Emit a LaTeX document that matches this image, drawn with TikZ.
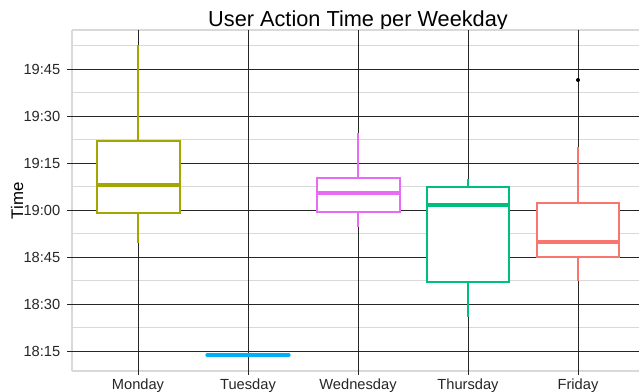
\documentclass[tikz,border=0pt]{standalone}
\usepackage{fontspec}
\setmainfont{Liberation Sans}

\definecolor{monday}{HTML}{A3A500}
\definecolor{tuesday}{HTML}{00B0F6}
\definecolor{wednesday}{HTML}{E76BF3}
\definecolor{thursday}{HTML}{00BF7D}
\definecolor{friday}{HTML}{F8766D}

\tikzset{
	majorgrid/.style={black!85, line width=0.7pt},
	minorgrid/.style={black!15, line width=0.9pt},
	boxline/.style={line width=1.2pt},
	medianline/.style={line width=2.4pt},
	ticklabel/.style={font=\fontsize{11}{13}\selectfont, text=black!85},
}

\begin{document}
\begin{tikzpicture}[x=0.75pt, y=-0.75pt]
		\useasboundingbox (0,0) rectangle (639,392);
		
		% Title
		\node[anchor=base, font=\fontsize{16.3}{19}\selectfont] at (358,27) {User Action Time per Weekday};
		
		% Panel and minor grid
		\foreach \y in {30,45.5,92.5,139.5,186.5,233.5,280.5,327.5,371}
			\draw[minorgrid] (72,\y) -- (639,\y);
		\draw[minorgrid] (72,30) -- (72,371);
		
		% Major grid, y ticks
		\foreach \y/\t in {69/19:45,116/19:30,163/19:15,210/19:00,257/18:45,304/18:30,351/18:15} {
			\draw[majorgrid] (67,\y) -- (639,\y);
			\node[ticklabel, anchor=east] at (65,\y) {\t};
		}
		
		% Major grid, x ticks
		\foreach \x/\d in {138/Monday,248/Tuesday,358/Wednesday,468/Thursday,578/Friday} {
			\draw[majorgrid] (\x,30) -- (\x,375);
			\node[ticklabel, anchor=base] at (\x,389) {\d};
		}
		
		% Axis title
		\node[rotate=90, font=\fontsize{12.6}{15}\selectfont] at (17,201) {Time};
		
		% Monday
		\draw[monday, boxline] (138,45) -- (138,141) (138,213) -- (138,243);
		\draw[monday, boxline, fill=white] (97,141) rectangle (180,213);
		\draw[monday, medianline] (97,185) -- (180,185);
		
		% Tuesday
		\draw[tuesday, medianline, line cap=round] (207,355) -- (289,355);
		
		% Wednesday
		\draw[wednesday, boxline] (358,133) -- (358,178) (358,212) -- (358,227);
		\draw[wednesday, boxline, fill=white] (317,178) rectangle (400,212);
		\draw[wednesday, medianline] (317,193) -- (400,193);
		
		% Thursday
		\draw[thursday, boxline] (468,179) -- (468,187) (468,282) -- (468,317);
		\draw[thursday, boxline, fill=white] (427,187) rectangle (509,282);
		\draw[thursday, medianline] (427,205) -- (509,205);
		
		% Friday
		\draw[friday, boxline] (578,147) -- (578,203) (578,257) -- (578,281);
		\draw[friday, boxline, fill=white] (537,203) rectangle (619,257);
		\draw[friday, medianline] (537,242) -- (619,242);
		\fill (578,80) circle (2);
	\end{tikzpicture}
\end{document}
